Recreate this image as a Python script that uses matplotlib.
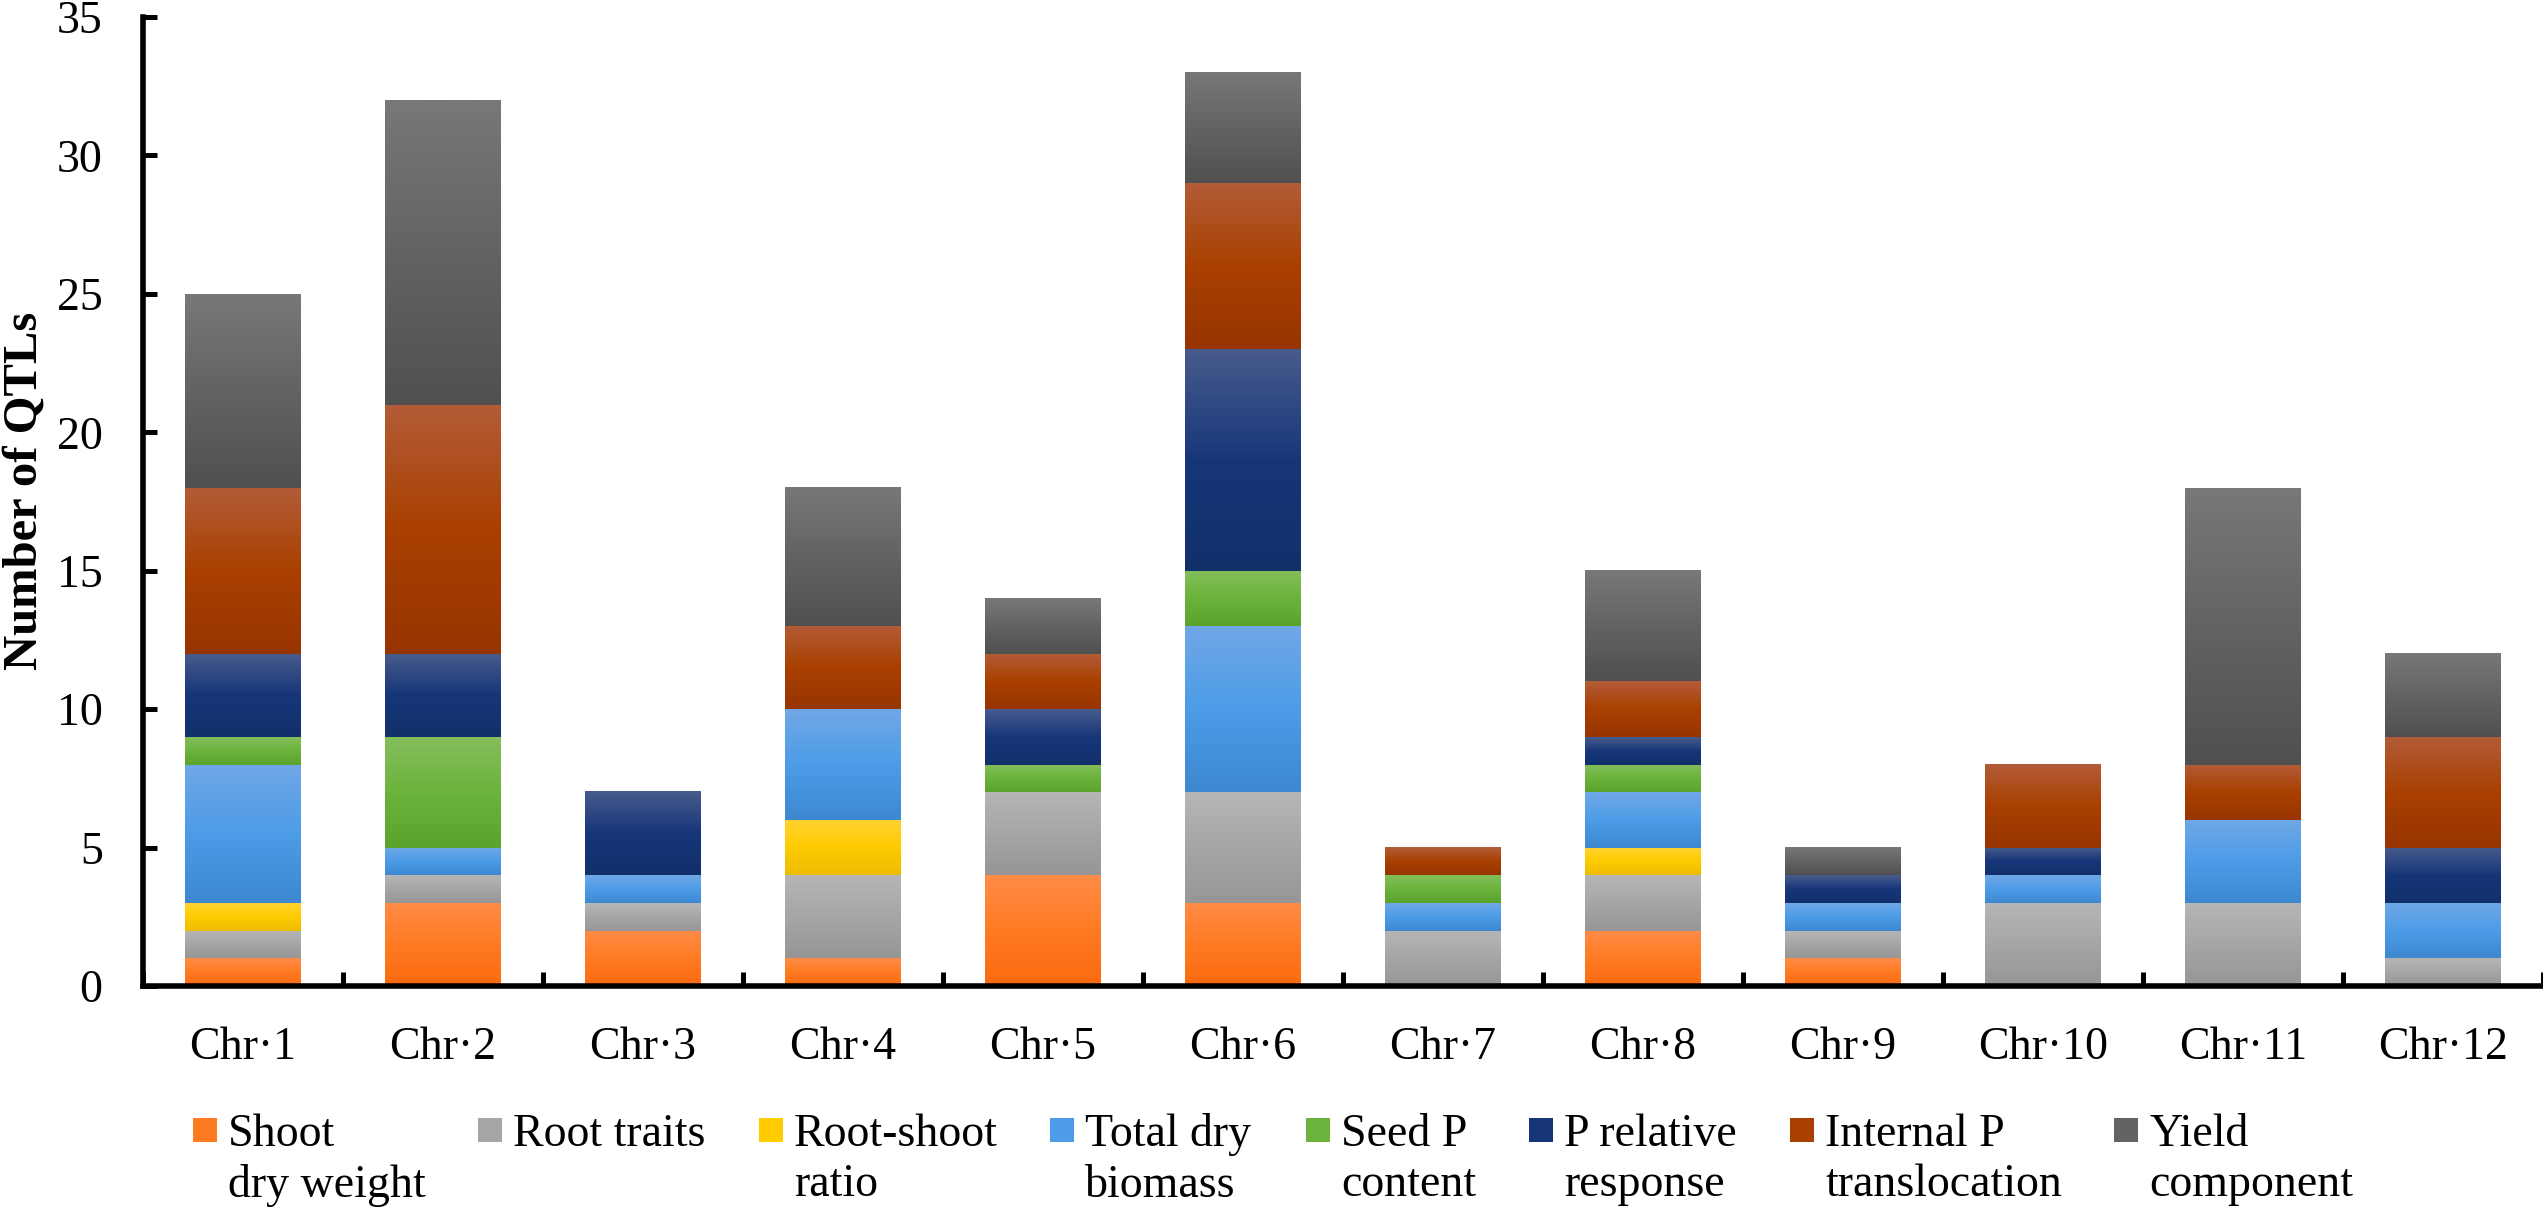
import numpy as np
import matplotlib
matplotlib.use("Agg")
import matplotlib.pyplot as plt
from matplotlib.colors import LinearSegmentedColormap
from matplotlib.patches import Rectangle

# ---------------- data ----------------
chromosomes = ["Chr·1", "Chr·2", "Chr·3", "Chr·4", "Chr·5", "Chr·6",
               "Chr·7", "Chr·8", "Chr·9", "Chr·10", "Chr·11", "Chr·12"]
series_labels = ["Shoot\ndry weight", "Root traits", "Root-shoot\nratio",
                 "Total dry\nbiomass", "Seed P\ncontent", "P relative\nresponse",
                 "Internal P\ntranslocation", "Yield\ncomponent"]
shoot_dry_weight = [1, 3, 2, 1, 4, 3, 0, 2, 1, 0, 0, 0]
root_traits = [1, 1, 1, 3, 3, 4, 2, 2, 1, 3, 3, 1]
root_shoot_ratio = [1, 0, 0, 2, 0, 0, 0, 1, 0, 0, 0, 0]
total_dry_biomass = [5, 1, 1, 4, 0, 6, 1, 2, 1, 1, 3, 2]
seed_p_content = [1, 4, 0, 0, 1, 2, 1, 1, 0, 0, 0, 0]
p_relative_response = [3, 3, 3, 0, 2, 8, 0, 1, 1, 1, 0, 2]
internal_p_translocation = [6, 9, 0, 3, 2, 6, 1, 2, 0, 3, 2, 4]
yield_component = [7, 11, 0, 5, 2, 4, 0, 4, 1, 0, 10, 3]
y_ticks = [0, 5, 10, 15, 20, 25, 30, 35]

series_values = [shoot_dry_weight, root_traits, root_shoot_ratio, total_dry_biomass,
                 seed_p_content, p_relative_response, internal_p_translocation,
                 yield_component]

# gradient colours (bottom/dark, middle/base, top/light)
gradients = [
    ("#fb6a10", "#ff7b22", "#ff8c48"),
    ("#969696", "#a6a6a6", "#b6b6b6"),
    ("#ecbc00", "#ffcc00", "#ffd232"),
    ("#3d88d0", "#4d9ce8", "#70a8e6"),
    ("#5ba32c", "#6cb33c", "#84be5c"),
    ("#11306a", "#17367a", "#485c8c"),
    ("#973400", "#a94000", "#b35c38"),
    ("#505050", "#636363", "#787878"),
]

# ---------------- figure ----------------
plt.rcParams["font.family"] = ["Liberation Serif", "DejaVu Serif"]
W, H = 2543, 1209
fig = plt.figure(figsize=(W / 100, H / 100), dpi=100)
ax = fig.add_axes([143 / W, 1 - 986 / H, 2400 / W, 969 / H])

x = np.arange(len(chromosomes))
bar_width = 0.58
bottoms = np.zeros(len(chromosomes))
grad = np.linspace(0, 1, 256).reshape(-1, 1)

for vals, cols in zip(series_values, gradients):
    cmap = LinearSegmentedColormap.from_list("g", list(cols))
    bars = ax.bar(x, vals, width=bar_width, bottom=bottoms,
                  color="none", edgecolor="none", zorder=2)
    for rect in bars:
        h = rect.get_height()
        if h <= 0:
            continue
        x0, y0, w = rect.get_x(), rect.get_y(), rect.get_width()
        ax.imshow(grad, extent=(x0, x0 + w, y0, y0 + h), origin="lower",
                  cmap=cmap, aspect="auto", interpolation="bilinear", zorder=2)
    bottoms = bottoms + np.array(vals)

ax.set_xlim(-0.5, len(chromosomes) - 0.5)
ax.set_ylim(0, 35)
ax.set_aspect("auto")

for s in ["top", "right"]:
    ax.spines[s].set_visible(False)
for s in ["left", "bottom"]:
    ax.spines[s].set_linewidth(4)
    ax.spines[s].set_zorder(5)

ax.set_xticks(x)
ax.set_xticklabels(chromosomes, fontsize=33)
ax.set_xticks(np.arange(-0.5, len(chromosomes), 1), minor=True)
ax.tick_params(axis="x", which="major", length=0, pad=29)
ax.tick_params(axis="x", which="minor", direction="in", length=10, width=3.6)
ax.set_yticks(y_ticks)
ax.set_yticklabels([str(v) for v in y_ticks], fontsize=33)
ax.tick_params(axis="y", which="major", direction="in", length=10, width=3.6, pad=29)

ax.set_ylabel("Number of QTLs", fontsize=35, fontweight="bold")
ax.yaxis.set_label_coords(-0.040, 0.511)

# ---------------- legend ----------------
legend_x = [193, 478, 759, 1050, 1306, 1529, 1790, 2114]
sq = 24
for lx, lab, cols in zip(legend_x, series_labels, gradients):
    fig.add_artist(Rectangle((lx / W, 1 - (1118 + sq) / H), sq / W, sq / H,
                             transform=fig.transFigure, facecolor=cols[1],
                             edgecolor="none"))
    fig.text((lx + 35) / W, 1 - 1113 / H, lab, fontsize=33, ha="left",
             va="top", linespacing=1.25)

fig.savefig("out.png", dpi=100)
